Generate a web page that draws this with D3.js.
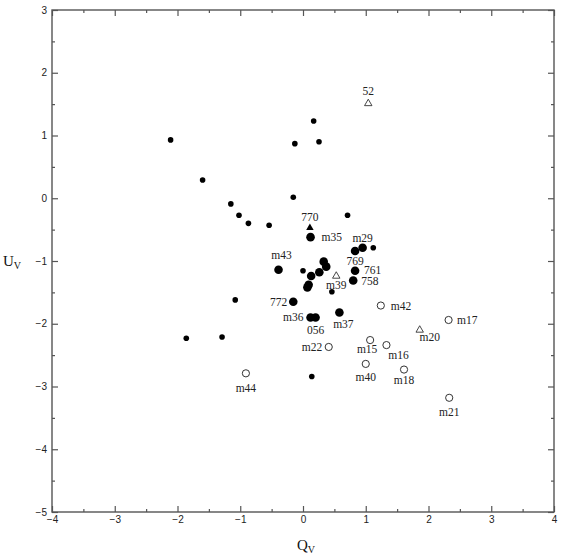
<!DOCTYPE html>
<html>
<head>
<meta charset="utf-8">
<script src="https://cdn.jsdelivr.net/npm/d3@7"></script>
<style>
  body { margin: 0; background: #fff; }
  svg { display: block; }
</style>
</head>
<body>
<svg></svg>
<script>
// small filled dots (unlabelled)
var smallDots = [
  [-2.11, 0.93], [-1.60, 0.29], [-1.15, -0.09], [-1.02, -0.27], [-0.87, -0.40],
  [-0.54, -0.43], [-0.155, 0.015], [-0.13, 0.87], [0.17, 1.23], [0.255, 0.90],
  [0.71, -0.27], [1.12, -0.79], [0.0, -1.155], [0.46, -1.49], [-1.08, -1.62],
  [-1.86, -2.23], [-1.29, -2.21], [0.14, -2.84]
];

// large filled dots [x, y, label]
var bigDots = [
  [0.12, -0.62, "m35"], [0.83, -0.84, "769"], [0.95, -0.79, "m29"],
  [-0.39, -1.14, "m43"], [0.33, -1.01, ""], [0.37, -1.09, ""],
  [0.26, -1.18, ""], [0.13, -1.24, ""], [0.09, -1.38, ""], [0.07, -1.42, ""],
  [0.83, -1.155, "761"], [0.80, -1.31, "758"], [-0.155, -1.65, "772"],
  [0.12, -1.90, "m36"], [0.20, -1.90, "056"], [0.58, -1.82, "m37"]
];

var filledTri = [[0.11, -0.47, "770"]];

var openTri = [[1.04, 1.51, "52"], [0.53, -1.24, "m39"], [1.86, -2.10, "m20"]];

var openCircles = [
  [1.24, -1.71, "m42"], [2.32, -1.94, "m17"], [1.07, -2.26, "m15"],
  [1.33, -2.34, "m16"], [0.41, -2.37, "m22"], [1.00, -2.64, "m40"],
  [1.61, -2.73, "m18"], [2.33, -3.18, "m21"], [-0.91, -2.79, "m44"]
];

var xTicks = [-4, -3, -2, -1, 0, 1, 2, 3, 4];
var yTicks = [-5, -4, -3, -2, -1, 0, 1, 2, 3];

// label placement: [anchor, dx, dy] in pixels
var labelPos = {
  "52": ["middle", 0, -12], "770": ["middle", 0, -11], "m35": ["start", 11, 0],
  "m29": ["middle", 0, -9.5], "769": ["middle", 0, 10], "761": ["start", 9, -1],
  "758": ["start", 8, 1], "m43": ["middle", 3, -15], "m39": ["middle", 0, 9],
  "772": ["end", -6, 0], "m36": ["end", -7, 0], "056": ["middle", 0, 12.7],
  "m37": ["middle", 4, 11.5], "m42": ["start", 10, 0], "m17": ["start", 8.5, 0],
  "m20": ["middle", 10, 7], "m15": ["middle", -3, 9], "m16": ["middle", 12, 10],
  "m22": ["end", -6.5, 0], "m40": ["middle", 0, 13], "m18": ["middle", 0, 10.5],
  "m21": ["middle", 0, 14.5], "m44": ["middle", 0, 14.5]
};

var svgWidth = 562;
var svgHeight = 554;
var plotLeft = 52, plotRight = 554, plotTop = 10, plotBottom = 512;

var svg = d3.select("svg")
  .attr("width", svgWidth)
  .attr("height", svgHeight);

var x = d3.scaleLinear().domain([-4, 4]).range([plotLeft, plotRight]);
var y = d3.scaleLinear().domain([-5, 3]).range([plotBottom, plotTop]);

var minorX = d3.range(-3.5, 4, 1);
var minorY = d3.range(-4.5, 3, 1);

function styleAxis(g) {
  g.select(".domain").remove();
  g.selectAll(".tick line").attr("stroke", "#555").attr("stroke-width", 1.2);
  g.selectAll(".tick text")
    .attr("fill", "#222")
    .attr("font-family", "Liberation Sans, Arial, sans-serif")
    .attr("font-size", "10px");
}

// major ticks with labels
svg.append("g").attr("transform", "translate(0," + plotBottom + ")")
  .call(d3.axisBottom(x).tickValues(xTicks).tickSize(-6).tickPadding(4))
  .call(styleAxis);
svg.append("g").attr("transform", "translate(" + plotLeft + ",0)")
  .call(d3.axisLeft(y).tickValues(yTicks).tickSize(-6).tickPadding(5))
  .call(styleAxis);
svg.append("g").attr("transform", "translate(0," + plotTop + ")")
  .call(d3.axisTop(x).tickValues(xTicks).tickSize(-6).tickFormat(""))
  .call(styleAxis);
svg.append("g").attr("transform", "translate(" + plotRight + ",0)")
  .call(d3.axisRight(y).tickValues(yTicks).tickSize(-6).tickFormat(""))
  .call(styleAxis);

// minor ticks
svg.append("g").attr("transform", "translate(0," + plotBottom + ")")
  .call(d3.axisBottom(x).tickValues(minorX).tickSize(-3).tickFormat(""))
  .call(styleAxis);
svg.append("g").attr("transform", "translate(" + plotLeft + ",0)")
  .call(d3.axisLeft(y).tickValues(minorY).tickSize(-3).tickFormat(""))
  .call(styleAxis);
svg.append("g").attr("transform", "translate(0," + plotTop + ")")
  .call(d3.axisTop(x).tickValues(minorX).tickSize(-3).tickFormat(""))
  .call(styleAxis);
svg.append("g").attr("transform", "translate(" + plotRight + ",0)")
  .call(d3.axisRight(y).tickValues(minorY).tickSize(-3).tickFormat(""))
  .call(styleAxis);

// frame
svg.append("rect")
  .attr("x", plotLeft).attr("y", plotTop)
  .attr("width", plotRight - plotLeft).attr("height", plotBottom - plotTop)
  .attr("fill", "none")
  .attr("stroke", "#555")
  .attr("stroke-width", 1.4);

// axis titles
var serif = "Liberation Serif, Times New Roman, serif";
var xt = svg.append("text")
  .attr("x", 297).attr("y", 550)
  .attr("font-family", serif).attr("font-size", "15px").attr("fill", "#111");
xt.append("tspan").text("Q");
xt.append("tspan").attr("font-size", "10px").attr("dy", 3).text("V");

var yt = svg.append("text")
  .attr("x", 3).attr("y", 266)
  .attr("font-family", serif).attr("font-size", "15px").attr("fill", "#111");
yt.append("tspan").text("U");
yt.append("tspan").attr("font-size", "10px").attr("dy", 3).text("V");

// markers
svg.append("g").selectAll("circle")
  .data(smallDots).enter().append("circle")
  .attr("cx", function(d) { return x(d[0]); })
  .attr("cy", function(d) { return y(d[1]); })
  .attr("r", 2.8)
  .attr("fill", "#000");

svg.append("g").selectAll("circle")
  .data(bigDots).enter().append("circle")
  .attr("cx", function(d) { return x(d[0]); })
  .attr("cy", function(d) { return y(d[1]); })
  .attr("r", 4.3)
  .attr("fill", "#000");

svg.append("g").selectAll("circle")
  .data(openCircles).enter().append("circle")
  .attr("cx", function(d) { return x(d[0]); })
  .attr("cy", function(d) { return y(d[1]); })
  .attr("r", 3.6)
  .attr("fill", "#fff")
  .attr("stroke", "#333")
  .attr("stroke-width", 1);

var tri = d3.symbol().type(d3.symbolTriangle).size(24);

svg.append("g").selectAll("path")
  .data(filledTri).enter().append("path")
  .attr("d", tri)
  .attr("transform", function(d) { return "translate(" + x(d[0]) + "," + y(d[1]) + ")"; })
  .attr("fill", "#000");

svg.append("g").selectAll("path")
  .data(openTri).enter().append("path")
  .attr("d", tri)
  .attr("transform", function(d) { return "translate(" + x(d[0]) + "," + y(d[1]) + ")"; })
  .attr("fill", "#fff")
  .attr("stroke", "#333")
  .attr("stroke-width", 0.9);

// point labels
var labelled = bigDots.concat(filledTri, openTri, openCircles)
  .filter(function(d) { return d[2] !== ""; });

svg.append("g").selectAll("text")
  .data(labelled).enter().append("text")
  .text(function(d) { return d[2]; })
  .attr("x", function(d) { return x(d[0]) + labelPos[d[2]][1]; })
  .attr("y", function(d) { return y(d[1]) + labelPos[d[2]][2]; })
  .attr("text-anchor", function(d) { return labelPos[d[2]][0]; })
  .attr("dominant-baseline", "central")
  .attr("font-family", serif)
  .attr("font-size", "11.5px")
  .attr("fill", "#222");
</script>
</body>
</html>
